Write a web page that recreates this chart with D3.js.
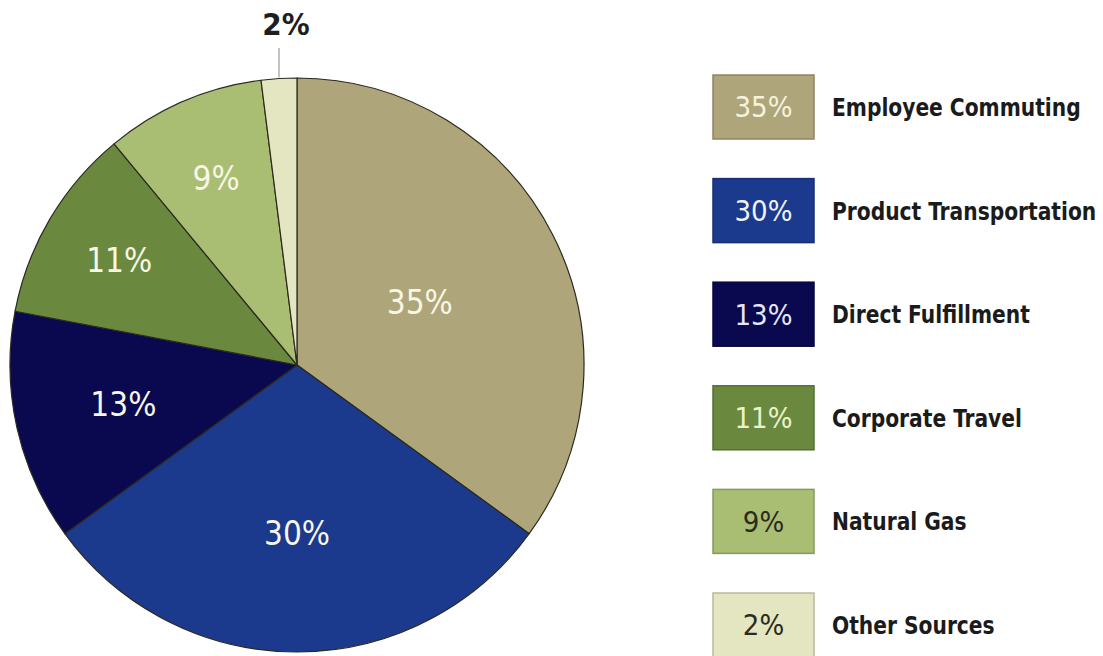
<!DOCTYPE html>
<html>
<head>
<meta charset="utf-8">
<script src="https://cdn.jsdelivr.net/npm/d3@7"></script>
<style>
  body { margin: 0; background: #fff; }
  text { font-family: "DejaVu Sans Condensed", "DejaVu Sans", sans-serif; font-stretch: condensed; }
</style>
</head>
<body>
<div id="container"></div>
<script>
// data
var categories = ['Employee Commuting', 'Product Transportation', 'Direct Fulfillment',
                  'Corporate Travel', 'Natural Gas', 'Other Sources'];
var shares = [35, 30, 13, 11, 9, 2];
var colors = ['#aea57b', '#1c3a8d', '#0a0950', '#6a893f', '#a9be73', '#e3e6c1'];
var boxTextColors = ['#f6f2dc', '#eef2fa', '#e6e6f4', '#eaf2cc', '#2b2b20', '#2b2b20'];

var width = 1103,
	height = 656;

var cx = 297, cy = 365, radius = 287;
// how far out each slice label sits (fraction of radius)
var labelFrac = [0.48, 0.585, 0.62, 0.72, 0.71, 0];

var datas = categories.map((c, i) => ({ name: c, value: shares[i], color: colors[i], i: i }));

var canvas = d3.select('#container').append('svg')
	.attr('width', width)
	.attr('height', height);

var pie = d3.pie()
	.value((d) => d.value)
	.sort(null);

var arc = d3.arc()
	.innerRadius(0)
	.outerRadius(radius);

var arcs = pie(datas);

var g = canvas.append('g')
	.attr('transform', `translate(${cx},${cy})`);

g.selectAll('path')
	.data(arcs)
	.enter()
		.append('path')
		.attr('d', arc)
		.attr('fill', (d) => d.data.color)
		.attr('stroke', '#2a2a1e')
		.attr('stroke-width', 1.2)
		.attr('stroke-linejoin', 'round');

// inside labels
g.selectAll('text.slice')
	.data(arcs.filter((d) => d.data.value >= 5))
	.enter()
		.append('text')
		.attr('class', 'slice')
		.attr('transform', (d) => {
			var rr = radius * labelFrac[d.data.i];
			var c = d3.arc().innerRadius(rr).outerRadius(rr).centroid(d);
			return `translate(${c[0]},${c[1]})`;
		})
		.attr('text-anchor', 'middle')
		.attr('dy', '0.36em')
		.attr('fill', '#f8f6e4')
		.style('font-size', '33px')
		.text((d) => d.data.value + '%');

// small slice: label outside with leader line
var small = arcs.filter((d) => d.data.value < 5);
small.forEach((d) => {
	var p = d3.arc().innerRadius(radius).outerRadius(radius).centroid(d);
	g.append('line')
		.attr('x1', p[0]).attr('y1', p[1] - 1)
		.attr('x2', p[0]).attr('y2', 48 - cy)
		.attr('stroke', '#9a9a9a')
		.attr('stroke-width', 1.2);
	g.append('text')
		.attr('x', p[0] + 7)
		.attr('y', 35 - cy)
		.attr('text-anchor', 'middle')
		.attr('fill', '#1e1e1e')
		.style('font-size', '31px')
		.style('font-weight', 'bold')
		.text(d.data.value + '%');
});

// legend
var yScale = d3.scalePoint()
	.domain(categories)
	.range([107, 625]);

var boxW = 101, boxH = 64, boxX = 713;

var legend = canvas.selectAll('g.legend')
	.data(datas)
	.enter()
		.append('g')
		.attr('class', 'legend')
		.attr('transform', (d) => `translate(0,${yScale(d.name)})`);

legend.append('rect')
	.attr('x', boxX)
	.attr('y', -boxH / 2)
	.attr('width', boxW)
	.attr('height', boxH)
	.attr('fill', (d) => d.color)
	.attr('stroke', (d) => d3.color(d.color).darker(0.6))
	.attr('stroke-width', 1.5);

legend.append('text')
	.attr('x', boxX + boxW / 2)
	.attr('dy', '0.36em')
	.attr('text-anchor', 'middle')
	.attr('fill', (d) => boxTextColors[d.i])
	.style('font-size', '29px')
	.text((d) => d.value + '%');

// names are drawn a bit narrower than the font to match the condensed face
legend.append('text')
	.attr('transform', 'translate(832,0) scale(0.9,1)')
	.attr('dy', '0.36em')
	.attr('fill', '#1b1b1b')
	.style('font-size', '25px')
	.style('font-weight', 'bold')
	.text((d) => d.name);
</script>
</body>
</html>
